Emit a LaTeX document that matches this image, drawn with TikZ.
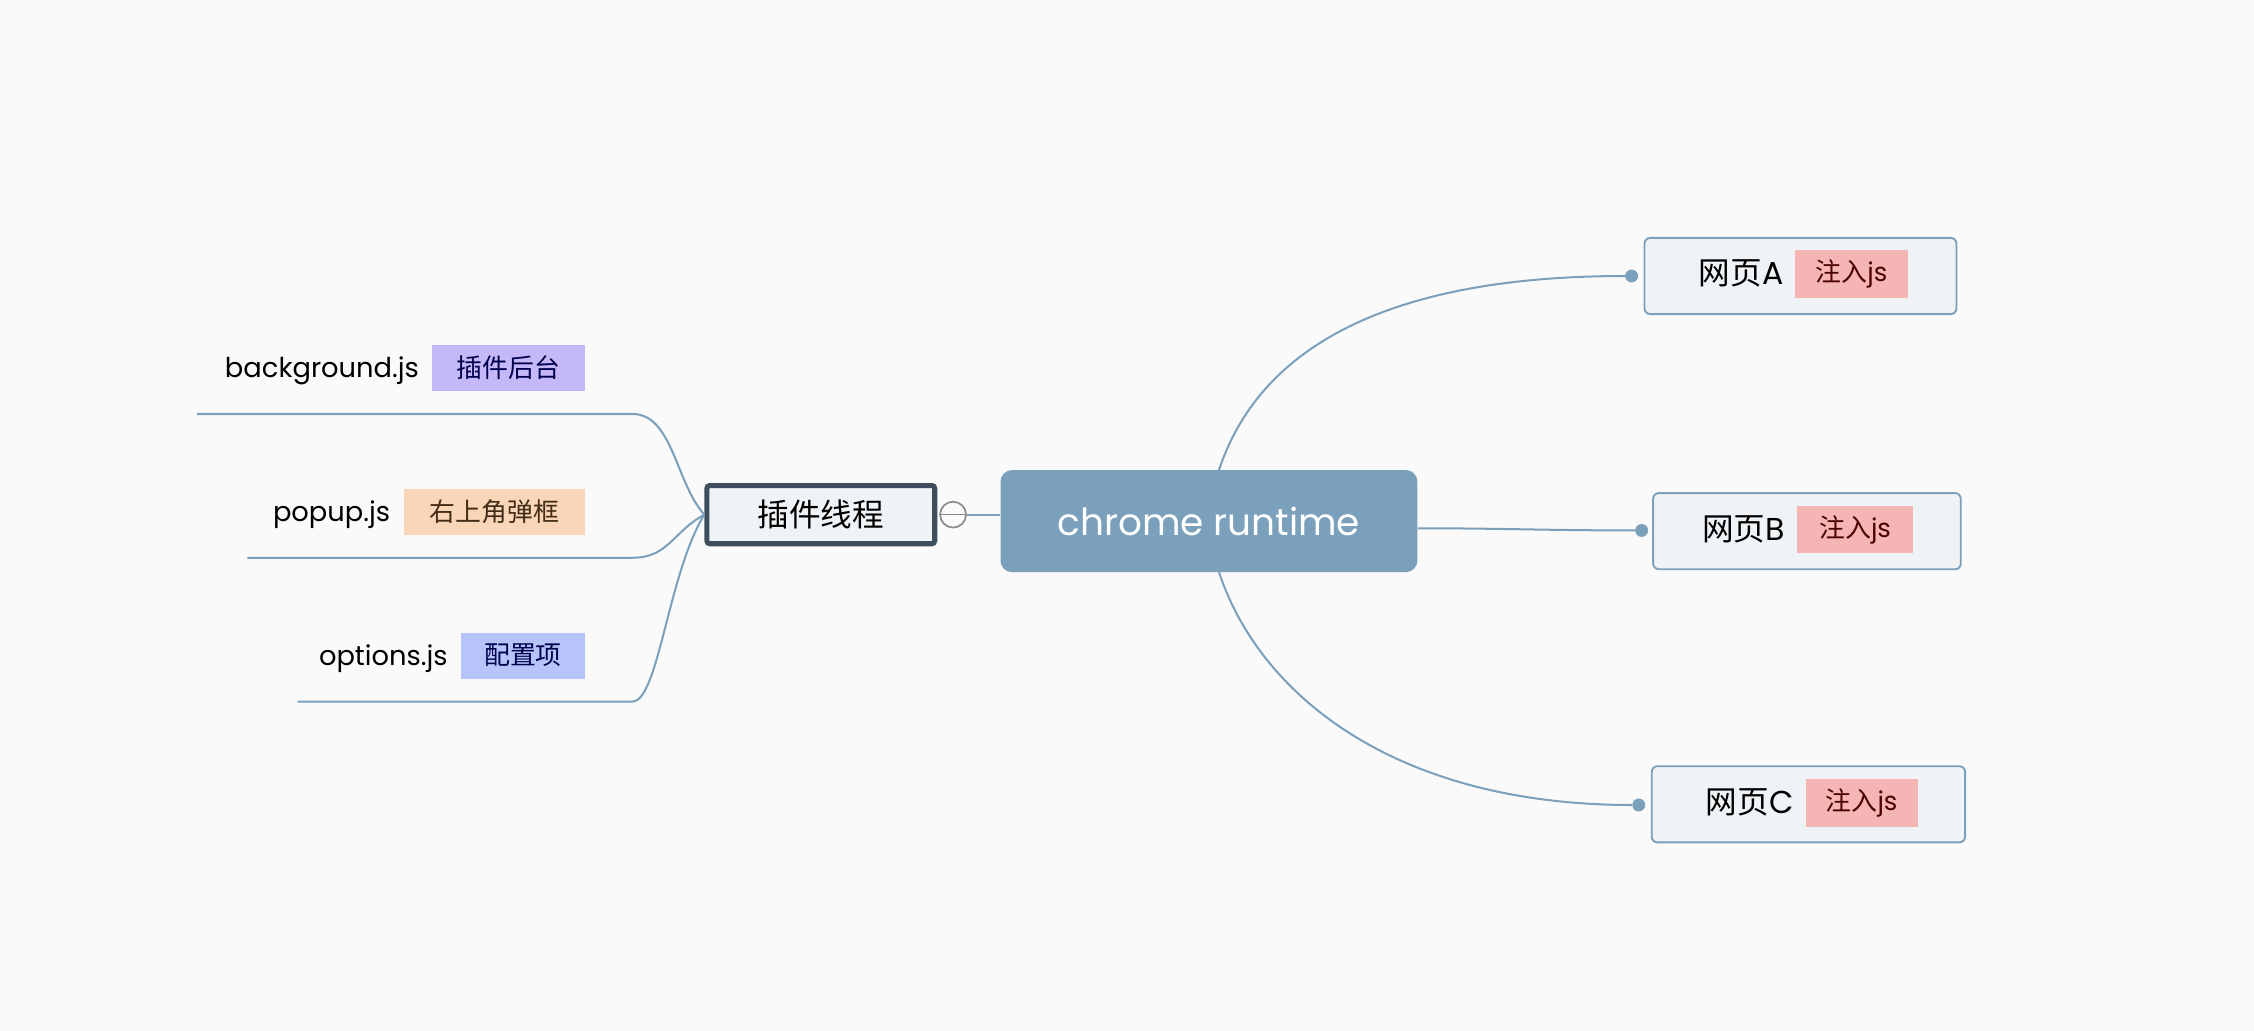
\documentclass[tikz,border=0pt]{standalone}
\usepackage{fontspec}
\setmainfont{Poppins}
\newfontfamily\cjk{Noto Sans CJK SC}
\usetikzlibrary{positioning}
\definecolor{bgc}{HTML}{FAFAFA}
\definecolor{steel}{HTML}{7BA0BC}
\definecolor{slate}{HTML}{3E4E5C}
\definecolor{pale}{HTML}{EFF3F6}
\definecolor{tagpurple}{HTML}{C4B8F9}
\definecolor{tagpeach}{HTML}{F9D6B7}
\definecolor{tagblue}{HTML}{B6C4F9}
\definecolor{tagpink}{HTML}{F5B5B5}

\begin{document}
\begin{tikzpicture}[x=1pt,y=-1pt,
  link/.style={draw=steel,line width=1.4pt},
  tag/.style={inner sep=0pt,minimum height=32pt,font=\cjk\fontsize{18}{18}\selectfont},
  leaf/.style={inner sep=0pt,font=\fontsize{19}{19}\selectfont},
  page/.style={draw=steel,fill=pale,line width=1.3pt,rounded corners=4pt,minimum height=53pt},
  pagetxt/.style={inner sep=0pt,font=\fontsize{22}{22}\selectfont},
  knob/.style={circle,fill=steel,inner sep=0pt,minimum size=9pt}]
  \fill[bgc] (0,0) rectangle (1568,717);
  \useasboundingbox (0,0) rectangle (1568,717);
  % centre
  \node[fill=steel,rounded corners=8pt,minimum width=290pt,minimum height=71pt,
        text=white,font=\fontsize{26}{26}\selectfont] (cr) at (841,362.5) {chrome runtime};
  \node[draw=slate,fill=pale,line width=3.5pt,rounded corners=2pt,minimum width=158.5pt,
        minimum height=40.5pt,font=\cjk\fontsize{22}{22}\selectfont] (cj) at (571,358) {插件线程};
  \node[circle,draw=gray!90,fill=bgc,line width=1.2pt,minimum size=18pt,inner sep=0pt] (fd) at (663,358) {};
  \draw[gray!90,line width=1.2pt] (fd.west) -- (fd.east);
  \draw[link] (fd.east) -- (fd.east -| cr.west);
  % left side
  \node[tag,fill=tagpurple,text=black!70!blue,minimum width=106pt,anchor=east] (bgt) at (407,256) {插件后台};
  \node[leaf,left=9pt of bgt,yshift=-2pt] (bg) {background.js};
  \node[tag,fill=tagpeach,text=black!65!brown,minimum width=126pt,anchor=east] (ppt) at (407,356) {右上角弹框};
  \node[leaf,left=9pt of ppt,yshift=-2pt] (pp) {popup.js};
  \node[tag,fill=tagblue,text=black!70!blue,minimum width=86pt,anchor=east] (opt) at (407,456) {配置项};
  \node[leaf,left=9pt of opt,yshift=-2pt] (op) {options.js};
  \coordinate (bgs) at (137,288);
  \coordinate (pps) at (172,388);
  \coordinate (ops) at (207,488);
  \draw[link] (bgs) -- ++(303,0) .. controls +(28,0) and +(-20,-22) .. (cj.west);
  \draw[link] (pps) -- ++(268,0) .. controls +(25,0) and +(-22,12) .. (cj.west);
  \draw[link] (ops) -- ++(233,0) .. controls +(18,0) and +(-25,40) .. (cj.west);
  % right side
  \node[page,minimum width=217pt] (pa) at (1252.5,192) {};
  \node[tag,fill=tagpink,text=black!70!red,minimum width=78pt,minimum height=33pt] (pat) at (1288,190.5) {注入\fontspec{Poppins}js};
  \node[pagetxt,left=8pt of pat] (pal) {{\cjk 网页}A};
  \node[page,minimum width=214pt] (pb) at (1257,369.5) {};
  \node[tag,fill=tagpink,text=black!70!red,minimum width=81pt,minimum height=33pt] (pbt) at (1290.5,368.5) {注入\fontspec{Poppins}js};
  \node[pagetxt,left=8pt of pbt] (pbl) {{\cjk 网页}B};
  \node[page,minimum width=218pt] (pc) at (1258,559.5) {};
  \node[tag,fill=tagpink,text=black!70!red,minimum width=78pt,minimum height=33pt] (pct) at (1295,558.5) {注入\fontspec{Poppins}js};
  \node[pagetxt,left=8pt of pct] (pcl) {{\cjk 网页}C};
  \node[knob] (ka) at (1135,192) {};
  \node[knob] (kb) at (1142,369) {};
  \node[knob] (kc) at (1140,560) {};
  \coordinate (crt) at (848,327);
  \coordinate (crb) at (848,398);
  \draw[link] (crt) .. controls +(28,-85) and +(-170,0) .. (ka);
  \draw[link] ([yshift=-5pt]cr.east) to[out=0,in=180] (kb);
  \draw[link] (crb) .. controls +(28,85) and +(-170,0) .. (kc);
\end{tikzpicture}
\end{document}
